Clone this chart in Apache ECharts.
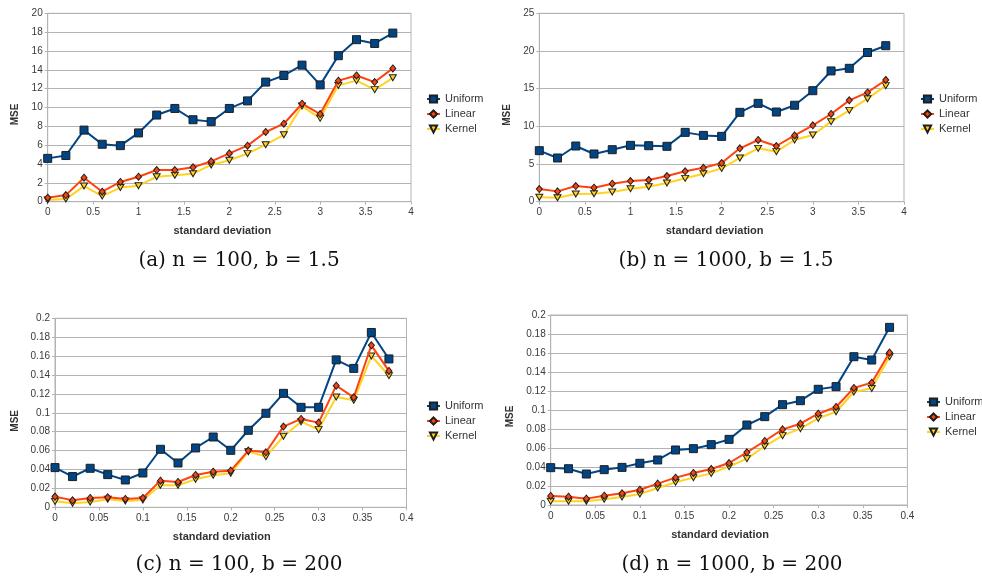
<!DOCTYPE html>
<html>
<head>
<meta charset="utf-8">
<script src="https://cdn.jsdelivr.net/npm/echarts@6/dist/echarts.min.js"></script>
<style>
  html, body { margin: 0; padding: 0; background: #ffffff; }
  #chart { width: 982px; height: 583px; }
</style>
</head>
<body>
<div id="chart"></div>
<script>
// Standard deviations used on the x axis
const sdWide = [0, 0.2, 0.4, 0.6, 0.8, 1, 1.2, 1.4, 1.6, 1.8, 2, 2.2, 2.4, 2.6, 2.8, 3, 3.2, 3.4, 3.6, 3.8];
const sdNarrow = [0, 0.02, 0.04, 0.06, 0.08, 0.1, 0.12, 0.14, 0.16, 0.18, 0.2, 0.22, 0.24, 0.26, 0.28, 0.3, 0.32, 0.34, 0.36, 0.38];

// (a) n = 100, b = 1.5
const aUniform = [4.6, 4.9, 7.6, 6.1, 5.95, 7.3, 9.2, 9.9, 8.7, 8.5, 9.9, 10.7, 12.7, 13.4, 14.5, 12.4, 15.5, 17.2, 16.8, 17.9];
const aLinear  = [0.42, 0.7, 2.55, 1.06, 2.1, 2.65, 3.36, 3.36, 3.65, 4.28, 5.13, 5.95, 7.4, 8.28, 10.4, 9.3, 12.85, 13.4, 12.7, 14.15];
const aKernel  = [0.18, 0.28, 1.66, 0.6, 1.5, 1.7, 2.65, 2.8, 2.97, 3.9, 4.4, 5.1, 6.05, 7.1, 10.15, 8.85, 12.35, 12.85, 11.9, 13.15];

// (b) n = 1000, b = 1.5
const bUniform = [6.77, 5.8, 7.39, 6.33, 6.9, 7.48, 7.43, 7.35, 9.2, 8.8, 8.67, 11.86, 13.05, 11.9, 12.8, 14.73, 17.35, 17.7, 19.8, 20.7];
const bLinear  = [1.68, 1.37, 2.08, 1.86, 2.39, 2.74, 2.88, 3.4, 4.03, 4.5, 5.13, 7.08, 8.19, 7.39, 8.8, 10.13, 11.64, 13.45, 14.5, 16.15];
const bKernel  = [0.58, 0.53, 1.02, 1.06, 1.28, 1.73, 1.99, 2.48, 3.1, 3.72, 4.42, 5.8, 7.08, 6.64, 8.19, 8.85, 10.62, 12.12, 13.67, 15.4];

// (c) n = 100, b = 200
const cUniform = [0.042, 0.0325, 0.0413, 0.0346, 0.0289, 0.0363, 0.0614, 0.0469, 0.0628, 0.0744, 0.0603, 0.0815, 0.0995, 0.1206, 0.1058, 0.1058, 0.156, 0.147, 0.185, 0.157];
const cLinear  = [0.0113, 0.0074, 0.0099, 0.0106, 0.0088, 0.0099, 0.0282, 0.0268, 0.0342, 0.0377, 0.0388, 0.06, 0.0582, 0.0854, 0.0935, 0.0896, 0.1287, 0.1164, 0.1714, 0.1443];
const cKernel  = [0.0063, 0.0042, 0.0056, 0.0085, 0.0067, 0.0078, 0.0233, 0.0233, 0.0296, 0.0339, 0.036, 0.0589, 0.0536, 0.0751, 0.0906, 0.0822, 0.1168, 0.1132, 0.1601, 0.1393];

// (d) n = 1000, b = 200
const dUniform = [0.0393, 0.0382, 0.0326, 0.0372, 0.0396, 0.0439, 0.0474, 0.0579, 0.0593, 0.0635, 0.0691, 0.0842, 0.093, 0.1056, 0.1098, 0.1218, 0.1246, 0.1561, 0.1526, 0.187];
const dLinear  = [0.0095, 0.0088, 0.0067, 0.0098, 0.0123, 0.0161, 0.0225, 0.0288, 0.0337, 0.0379, 0.0442, 0.0554, 0.0674, 0.0796, 0.0856, 0.0961, 0.1032, 0.1232, 0.1288, 0.1604];
const dKernel  = [0.0039, 0.0039, 0.0039, 0.006, 0.0084, 0.0116, 0.0179, 0.0239, 0.0288, 0.0333, 0.0404, 0.0488, 0.0618, 0.073, 0.0804, 0.0912, 0.0982, 0.1189, 0.1228, 0.1561];

const seriesNames = ['Uniform', 'Linear', 'Kernel'];
const captions = ['(a) n = 100, b = 1.5', '(b) n = 1000, b = 1.5', '(c) n = 100, b = 200', '(d) n = 1000, b = 200'];
const xTitle = 'standard deviation';
const yTitle = 'MSE';

// Axis ranges: [xMax, xStep, yMax, yStep]
const ranges = [
  [4, 0.5, 20, 2],
  [4, 0.5, 25, 5],
  [0.4, 0.05, 0.2, 0.02],
  [0.4, 0.05, 0.2, 0.02]
];

const panels = [
  { x: sdWide,   ys: [aUniform, aLinear, aKernel] },
  { x: sdWide,   ys: [bUniform, bLinear, bKernel] },
  { x: sdNarrow, ys: [cUniform, cLinear, cKernel] },
  { x: sdNarrow, ys: [dUniform, dLinear, dKernel] }
];

// Layout of each panel
const layout = [
  { left: 47.7,  top: 13.3,  width: 363.3, height: 188.4, yGap: 27, yShift: 14, xShift: 14, legLeft: 426, legTop: 93,  capX: 239, capY: 261 },
  { left: 539.3, top: 13.3,  width: 364.7, height: 188.4, yGap: 27, yShift: 15, xShift: 14, legLeft: 920, legTop: 93,  capX: 726, capY: 261 },
  { left: 55,    top: 318.3, width: 351.5, height: 189,   yGap: 35, yShift: 16, xShift: 18, legLeft: 426, legTop: 400, capX: 239, capY: 565 },
  { left: 550.7, top: 315,   width: 356.7, height: 190,   yGap: 35, yShift: 13, xShift: 18, legLeft: 926, legTop: 396, capX: 732, capY: 565 }
];

const styles = [
  { line: '#004586', fill: '#004586', symbol: 'rect',     size: 8,      rotate: 0,   z: 4 },
  { line: '#ff420e', fill: '#ff420e', symbol: 'diamond',  size: [6, 7], rotate: 0,   z: 3 },
  { line: '#ffd320', fill: '#ffd320', symbol: 'triangle', size: [7, 6], rotate: 180, z: 2 }
];

const axisGrey = '#b3b3b3';
const labelColor = '#3a3a3a';
const sansFont = '"Liberation Sans", Arial, sans-serif';

const fmt = v => String(+v.toFixed(3));

const grid = [], xAxis = [], yAxis = [], series = [], legend = [], graphic = [];

panels.forEach((p, i) => {
  const L = layout[i];
  const r = ranges[i];
  grid.push({
    left: L.left, top: L.top, width: L.width, height: L.height,
    show: true, borderColor: axisGrey, borderWidth: 1, backgroundColor: 'transparent'
  });
  xAxis.push({
    type: 'value', gridIndex: i, min: 0, max: r[0], interval: r[1],
    name: xTitle, nameLocation: 'middle', nameGap: 24,
    nameTextStyle: { fontFamily: sansFont, fontWeight: 'bold', fontSize: 11, color: '#333', padding: [0, L.xShift, 0, 0] },
    axisLine: { show: true, lineStyle: { color: axisGrey, width: 1 } },
    axisTick: { show: true, length: 3, lineStyle: { color: axisGrey } },
    axisLabel: { fontFamily: sansFont, fontSize: 10, color: labelColor, margin: 6, formatter: fmt },
    splitLine: { show: false }
  });
  yAxis.push({
    type: 'value', gridIndex: i, min: 0, max: r[2], interval: r[3],
    name: yTitle, nameLocation: 'middle', nameGap: L.yGap, nameRotate: 90,
    nameTextStyle: { fontFamily: sansFont, fontWeight: 'bold', fontSize: 10, color: '#333', padding: [0, L.yShift, 0, 0] },
    axisLine: { show: true, lineStyle: { color: axisGrey, width: 1 } },
    axisTick: { show: true, length: 3, lineStyle: { color: axisGrey } },
    axisLabel: { fontFamily: sansFont, fontSize: 10, color: labelColor, margin: 5, formatter: fmt },
    splitLine: { show: true, lineStyle: { color: axisGrey, width: 1 } }
  });
  p.ys.forEach((vals, k) => {
    const s = styles[k];
    series.push({
      name: seriesNames[k], type: 'line', xAxisIndex: i, yAxisIndex: i,
      data: vals.map((v, j) => [p.x[j], v]),
      symbol: s.symbol, symbolSize: s.size, symbolRotate: s.rotate, z: s.z,
      showAllSymbol: true, animation: false,
      lineStyle: { color: s.line, width: 2 },
      itemStyle: { color: s.fill, borderColor: '#1e1e1e', borderWidth: 1 },
      emphasis: { disabled: true }
    });
  });
  legend.push({
    data: seriesNames, orient: 'vertical', left: L.legLeft, top: L.legTop,
    itemWidth: 13, itemHeight: 9, itemGap: 3, padding: 0, selectedMode: false,
    textStyle: { fontFamily: sansFont, fontSize: 11, color: '#333', lineHeight: 12 }
  });
  graphic.push({
    type: 'text', left: L.capX, top: L.capY, silent: true,
    style: {
      text: captions[i], x: L.capX, y: L.capY, textAlign: 'center', textVerticalAlign: 'middle',
      font: '20px "DejaVu Serif", serif', fill: '#111'
    }
  });
});

// Captions positioned by their centre points
graphic.forEach(g => { delete g.left; delete g.top; });

const chart = echarts.init(document.getElementById('chart'), null, { renderer: 'canvas' });
chart.setOption({
  animation: false,
  backgroundColor: '#ffffff',
  grid, xAxis, yAxis, series, legend, graphic
});
</script>
</body>
</html>
